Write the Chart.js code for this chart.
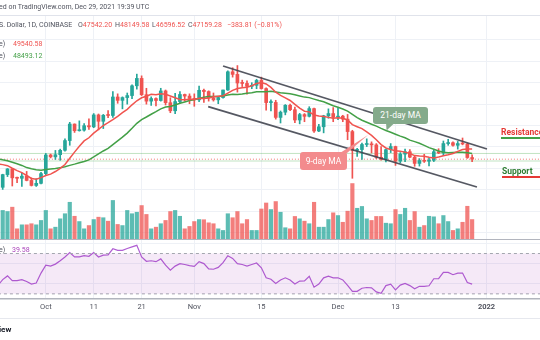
<!DOCTYPE html>
<html>
<head>
<meta charset="utf-8">
<script src="https://cdn.jsdelivr.net/npm/chart.js@4.4.1/dist/chart.umd.min.js"></script>
<style>
  body { margin: 0; width: 540px; height: 340px; overflow: hidden; background: #fff; position: relative;
         font-family: Roboto, 'Open Sans', sans-serif; }
  .abs { position: absolute; white-space: nowrap; }
  .hdr { font-size: 7px; line-height: 10px; color: #50535e; }
  .dn { color: #ef5350; }
  .up { color: #43a047; }
  .bubble { position: absolute; color: #fff; font-size: 8.5px; text-align: center; border-radius: 3px; }
</style>
</head>
<body>

<div class="abs" style="left:0;top:15px;width:540px;height:1px;background:#e0e3eb"></div>
<div id="pricePane" class="abs" style="left:0;top:16px;width:540px;height:223px">
  <canvas id="priceChart" width="540" height="223"></canvas>
</div>
<div class="abs" style="left:0;top:238.5px;width:540px;height:1.5px;background:#b2b5be"></div>
<div id="rsiPane" class="abs" style="left:0;top:240px;width:540px;height:76px">
  <canvas id="rsiChart" width="540" height="76"></canvas>
</div>
<div class="abs" style="left:0;top:318px;width:540px;height:1px;background:#e6e8ee"></div>

<svg class="abs" style="left:0;top:0" width="540" height="340">
  <polygon points="386,122.5 395,122.5 386.5,130.5" fill="#84aa8b"/>
  <polygon points="340,153 347,153 368,135" fill="#f38b8d"/>
</svg>

<div class="abs hdr" style="left:-1px;top:2px">ed on TradingView.com, Dec 29, 2021 19:39 UTC</div>
<div class="abs hdr" style="left:-1px;top:20px">S. Dollar, 1D, COINBASE</div>
<div class="abs hdr" style="left:78px;top:20px">O<span class="dn">47542.20</span></div>
<div class="abs hdr" style="left:115px;top:20px">H<span class="dn">48149.58</span></div>
<div class="abs hdr" style="left:152px;top:20px">L<span class="dn">46596.52</span></div>
<div class="abs hdr" style="left:188px;top:20px">C<span class="dn">47159.28</span></div>
<div class="abs hdr dn" style="left:227px;top:20px">−383.81 (−0.81%)</div>
<div class="abs hdr" style="left:-1px;top:39px">e)</div>
<div class="abs hdr dn" style="left:13px;top:39px">49540.58</div>
<div class="abs hdr" style="left:-1px;top:50.5px">e)</div>
<div class="abs hdr up" style="left:13px;top:50.5px">48493.12</div>
<div class="abs hdr" style="left:-1px;top:245px">e)</div>
<div class="abs hdr" style="left:12px;top:245px;color:#ab47bc">39.58</div>

<div class="bubble" style="left:373px;top:106.5px;width:55px;height:17px;line-height:17px;background:#84aa8b">21-day MA</div>
<div class="bubble" style="left:300px;top:152px;width:47px;height:18px;line-height:18px;background:#f38b8d">9-day MA</div>

<div class="abs" style="left:501px;top:127px;font-size:8.5px;font-weight:bold;color:#e53935">Resistance</div>
<div class="abs" style="left:501px;top:137px;width:40px;height:2px;background:#43a047"></div>
<div class="abs" style="left:502px;top:165.5px;font-size:8.5px;font-weight:bold;color:#2e7d32">Support</div>
<div class="abs" style="left:502px;top:175.5px;width:40px;height:2px;background:#e53935"></div>

<div class="abs" style="left:-1px;top:325px;font-size:8px;font-weight:bold;color:#131722">iew</div>

<script>
// daily candles, Sep 21 2021 (index 0) .. Dec 29 2021 (index 99)
const opens = [
  42800, 40600, 43560, 44880, 42800, 42700, 43200, 42200, 41030, 41520,
  43790, 48140, 47700, 48200, 49230, 51500, 55350, 53800, 53930, 54970,
  54700, 57480, 56000, 57400, 57350, 61670, 60880, 61530, 62000, 64280,
  66000, 62200, 60700, 61300, 60850, 63080, 60330, 58450, 60600, 62250,
  61880, 61320, 61000, 63230, 62940, 61440, 61000, 61530, 63300, 67550,
  66940, 64930, 64830, 64150, 64390, 65530, 63630, 60360, 60400, 56900,
  58120, 59730, 58700, 56300, 57560, 57160, 58960, 53730, 54720, 57270,
  57800, 56950, 57200, 56500, 53600, 49200, 49400, 50580, 50600, 50500,
  47600, 47150, 49380, 50100, 46700, 48340, 48900, 47630, 46170, 46850,
  46680, 46900, 48900, 48600, 50800, 51000, 50400, 50800, 50700, 47542
];
const highs = [
  43600, 43650, 44980, 45000, 42980, 43900, 44300, 42800, 42600, 44100,
  48500, 48350, 49200, 49500, 51900, 55750, 55400, 56100, 55450, 56550,
  57800, 57700, 57600, 58500, 62900, 62400, 61700, 62600, 64500, 67000,
  66600, 63700, 61700, 61500, 63700, 63300, 61500, 62500, 62950, 62350,
  62400, 62400, 64200, 63500, 63100, 62600, 61600, 63300, 67750, 68500,
  69000, 65600, 65450, 65000, 65800, 66300, 63800, 61000, 60900, 58400,
  59900, 60000, 59300, 57850, 57800, 59400, 59100, 55300, 57400, 58900,
  59200, 59100, 57400, 57600, 53900, 49700, 50900, 51900, 51200, 50800,
  50100, 49500, 50800, 50200, 48700, 49500, 49400, 47950, 47300, 48300,
  47500, 49300, 49600, 51400, 51800, 51200, 51300, 52100, 50900, 48150
];
const lows = [
  39600, 40100, 43100, 40900, 41700, 40800, 42100, 40900, 40800, 41400,
  43300, 47450, 47100, 46900, 49050, 50400, 53400, 53700, 53700, 54100,
  54500, 54000, 54300, 56850, 56900, 60200, 58900, 60000, 61300, 63500,
  62000, 60000, 59700, 59600, 60700, 59800, 58000, 57800, 60200, 60700,
  60100, 59500, 60600, 60400, 60700, 60700, 60100, 61400, 63200, 66300,
  62800, 64100, 62300, 63600, 63600, 63500, 58600, 58400, 56500, 55600,
  57500, 58500, 55700, 55400, 55900, 57000, 53400, 53600, 53300, 56700,
  55900, 56400, 55900, 51700, 42700, 47800, 47100, 50100, 48600, 47300,
  46900, 46500, 48700, 45700, 46300, 46600, 47500, 45500, 45550, 46400,
  45600, 46600, 48450, 48000, 50400, 50200, 49500, 50500, 47350, 46597
];
const closes = [
  40600, 43560, 44880, 42800, 42700, 43200, 42200, 41030, 41520, 43790,
  48140, 47700, 48200, 49230, 51500, 55350, 53800, 53930, 54970, 54700,
  57480, 56000, 57400, 57350, 61670, 60880, 61530, 62000, 64280, 66000,
  62200, 60700, 61300, 60850, 63080, 60330, 58450, 60600, 62250, 61880,
  61320, 61000, 63230, 62940, 61440, 61000, 61530, 63300, 67550, 66940,
  64930, 64830, 64150, 64390, 65530, 63630, 60360, 60400, 56900, 58120,
  59730, 58700, 56300, 57560, 57160, 58960, 53730, 54720, 57270, 57800,
  56950, 57200, 56500, 53600, 49200, 49400, 50580, 50600, 50500, 47600,
  47150, 49380, 50100, 46700, 48340, 48900, 47630, 46170, 46850, 46680,
  46900, 48900, 48600, 50800, 51000, 50400, 50800, 50700, 47542, 47159
];
const volumes = [
  16500, 15700, 15100, 17500, 5600, 7800, 7800, 8400, 7800, 10200,
  15700, 5600, 6500, 11100, 13900, 20200, 12500, 9600, 5600, 7400,
  10700, 12000, 11700, 9800, 21200, 8000, 7400, 15700, 13900, 14700,
  18400, 13500, 5600, 6500, 8400, 10200, 15100, 15700, 12500, 5600,
  6900, 9600, 10700, 10600, 8900, 8400, 5600, 4700, 13900, 11700,
  15100, 8400, 10700, 4700, 4700, 16500, 19800, 16200, 20600, 14700,
  6200, 5600, 12400, 11100, 9800, 8400, 20200, 6500, 6500, 10700,
  14400, 12900, 9200, 15300, 30500, 16900, 17900, 11100, 10200, 12400,
  12400, 8700, 8400, 16200, 13500, 16900, 10200, 15100, 6500, 7400,
  12500, 12200, 8400, 12900, 9600, 4700, 5600, 9200, 18000, 10700
];
const ma9 = [
  46046, 45890, 45643, 45049, 44488, 44032, 43354, 42663, 42499, 42853,
  43362, 43676, 44276, 45001, 45923, 47384, 48803, 50182, 51424, 52153,
  53240, 54107, 55014, 55664, 56367, 57153, 57998, 58779, 59843, 60790,
  61479, 61846, 62284, 62193, 62438, 62304, 61910, 61501, 61084, 61049,
  61118, 61084, 61349, 61333, 61457, 61740, 61843, 61960, 62590, 63214,
  63651, 63829, 63963, 64291, 64794, 65028, 64701, 63900, 62784, 62028,
  61461, 60856, 59957, 59071, 58352, 58197, 57462, 57220, 57126, 56911,
  56717, 56817, 56699, 56303, 55219, 54738, 54278, 53534, 52723, 51684,
  50568, 49777, 49388, 49110, 48992, 48806, 48478, 47997, 47913, 47861,
  47586, 47452, 47663, 47937, 48170, 48478, 48992, 49420, 49515, 49544
];
const ma21 = [
  47253, 47002, 46791, 46451, 46106, 45698, 45198, 44920, 44703, 44579,
  44736, 44856, 44959, 45162, 45371, 45714, 46002, 46318, 46636, 46990,
  47680, 48413, 49072, 49666, 50565, 51431, 52303, 53246, 54353, 55519,
  56396, 56994, 57641, 58244, 58903, 59324, 59471, 59795, 60191, 60520,
  60836, 61003, 61348, 61611, 61806, 61774, 61805, 61890, 62154, 62280,
  62230, 62355, 62519, 62666, 62889, 62915, 62917, 63007, 62831, 62634,
  62531, 62407, 62183, 61913, 61638, 61519, 61173, 60849, 60562, 60098,
  59622, 59254, 58857, 58355, 57631, 56863, 56242, 55776, 55308, 54865,
  54342, 53850, 53440, 52983, 52544, 52150, 51611, 51251, 50876, 50372,
  49853, 49470, 49060, 48789, 48665, 48722, 48788, 48794, 48649, 48490
];
const rsi = [
  38.5, 44.1, 47.8, 43.1, 43.1, 44.1, 42.2, 39.7, 40.8, 50.6,
  58.4, 57.5, 59.5, 62.8, 66.6, 71.0, 66.6, 66.6, 67.8, 67.2,
  71.0, 66.6, 68.4, 68.7, 74.7, 73.1, 73.1, 75.0, 76.6, 78.1,
  66.6, 62.3, 62.8, 61.9, 64.7, 58.4, 53.4, 57.5, 60.0, 59.1,
  58.0, 57.2, 61.9, 60.0, 54.8, 54.4, 56.2, 60.9, 67.8, 65.1,
  60.0, 59.1, 57.6, 59.1, 60.6, 55.8, 45.9, 44.5, 40.3, 43.8,
  45.9, 43.8, 39.7, 42.7, 42.8, 47.5, 36.6, 39.7, 45.9, 47.5,
  45.9, 45.9, 43.8, 38.4, 32.5, 32.5, 35.6, 36.3, 35.9, 31.9,
  30.5, 38.2, 39.7, 34.0, 38.7, 40.3, 38.2, 35.0, 37.5, 37.5,
  38.0, 45.0, 45.0, 51.3, 51.3, 49.0, 50.6, 50.6, 41.2, 39.6
];

// time axis: day index of each label
const tickDays = [10, 20, 30, 41, 55, 71, 83, 102];
const tickLabels = ['Oct', '11', '21', 'Nov', '15', 'Dec', '13', '2022'];

// drawings on the price pane, [day index, price]
const channelTop = [[47.0, 68900], [102.1, 49530]];
const channelBottom = [[43.9, 59400], [100.0, 40670]];
const priceLines = [48493, 47159, 46730];

const upColor = '#26a69a';
const downColor = '#ef5350';
const isUp = closes.map((c, i) => c >= opens[i]);
const candleColors = isUp.map(u => (u ? upColor : downColor));
const volColors = isUp.map(u => (u ? 'rgba(38,166,154,0.75)' : 'rgba(239,83,80,0.75)'));

const xRange = { min: 0.436, max: 113.17 };
const gridColor = '#eef1f6';

const xScale = (showTicks) => ({
  type: 'linear',
  min: xRange.min,
  max: xRange.max,
  offset: false,
  grid: { color: gridColor, offset: false, drawTicks: false },
  border: { display: showTicks, color: '#b2b5be', width: 1.5 },
  afterBuildTicks: (axis) => { axis.ticks = tickDays.map(v => ({ value: v })); },
  ticks: {
    display: showTicks,
    autoSkip: false,
    maxRotation: 0,
    padding: 4,
    color: '#50535e',
    font: (ctx) => ({
      size: 7.5,
      family: 'Roboto',
      weight: ctx.tick && ctx.tick.value === 102 ? 'bold' : 'normal'
    }),
    callback: (v) => tickLabels[tickDays.indexOf(v)]
  }
});

const flatLine = (y, color, dash) => ({
  type: 'line',
  data: [{ x: 0, y: y }, { x: 114, y: y }],
  borderColor: color,
  borderWidth: 1,
  borderDash: dash || [],
  pointRadius: 0,
  order: 9
});

const segment = (pts) => ({
  type: 'line',
  data: pts.map(p => ({ x: p[0], y: p[1] })),
  borderColor: 'rgba(67,70,81,0.9)',
  borderWidth: 1.8,
  pointRadius: 0,
  order: 1
});

new Chart(document.getElementById('priceChart'), {
  type: 'bar',
  data: {
    datasets: [
      {
        type: 'bar',
        yAxisID: 'yv',
        data: volumes.map((v, i) => ({ x: i, y: v })),
        backgroundColor: volColors,
        barThickness: 3.5,
        order: 10
      },
      flatLine(priceLines[0], 'rgba(76,175,80,0.35)'),
      flatLine(priceLines[1], 'rgba(239,83,80,0.8)', [1, 2]),
      flatLine(priceLines[2], 'rgba(76,175,80,0.35)'),
      {
        type: 'bar',
        data: lows.map((l, i) => ({ x: i, y: [l, highs[i]] })),
        backgroundColor: candleColors,
        barThickness: 1,
        order: 5
      },
      {
        type: 'bar',
        data: opens.map((o, i) => ({ x: i, y: [o, closes[i]] })),
        backgroundColor: candleColors,
        barThickness: 3,
        minBarLength: 1,
        order: 4
      },
      {
        type: 'line',
        data: ma21.map((v, i) => ({ x: i, y: v })),
        borderColor: '#43a047',
        borderWidth: 1.5,
        pointRadius: 0,
        order: 3
      },
      {
        type: 'line',
        data: ma9.map((v, i) => ({ x: i, y: v })),
        borderColor: '#f0544f',
        borderWidth: 1.5,
        pointRadius: 0,
        order: 2
      },
      segment(channelTop),
      segment(channelBottom)
    ]
  },
  options: {
    responsive: false,
    animation: false,
    layout: { padding: 0 },
    datasets: { bar: { grouped: false } },
    plugins: { legend: { display: false }, tooltip: { enabled: false } },
    scales: {
      x: xScale(false),
      y: {
        type: 'linear',
        min: 28536,
        max: 80562,
        grid: { color: gridColor, drawTicks: false },
        border: { display: false },
        ticks: { display: false },
        afterBuildTicks: (axis) => {
          axis.ticks = [30000, 35000, 40000, 45000, 50000, 55000, 60000, 65000, 70000, 75000].map(v => ({ value: v }));
        }
      },
      yv: { display: false, min: 0, max: 122650 }
    }
  }
});

new Chart(document.getElementById('rsiChart'), {
  type: 'line',
  data: {
    datasets: [
      {
        data: [{ x: 0, y: 70 }, { x: 114, y: 70 }],
        borderColor: '#a3a6af',
        borderWidth: 1,
        borderDash: [3, 3],
        pointRadius: 0,
        fill: '+1',
        backgroundColor: 'rgba(156,39,176,0.1)'
      },
      {
        data: [{ x: 0, y: 30 }, { x: 114, y: 30 }],
        borderColor: '#a3a6af',
        borderWidth: 1,
        borderDash: [3, 3],
        pointRadius: 0,
        fill: false
      },
      {
        data: rsi.map((v, i) => ({ x: i, y: v })),
        borderColor: '#b05fd3',
        borderWidth: 1.2,
        pointRadius: 0,
        fill: false
      }
    ]
  },
  options: {
    responsive: false,
    animation: false,
    layout: { padding: 0 },
    plugins: { legend: { display: false }, tooltip: { enabled: false } },
    scales: {
      x: xScale(true),
      y: {
        type: 'linear',
        min: 24.9,
        max: 83.4,
        grid: { color: gridColor, drawTicks: false },
        border: { display: false },
        ticks: { display: false },
        afterBuildTicks: (axis) => { axis.ticks = [40, 60, 80].map(v => ({ value: v })); }
      }
    }
  }
});
</script>
</body>
</html>
